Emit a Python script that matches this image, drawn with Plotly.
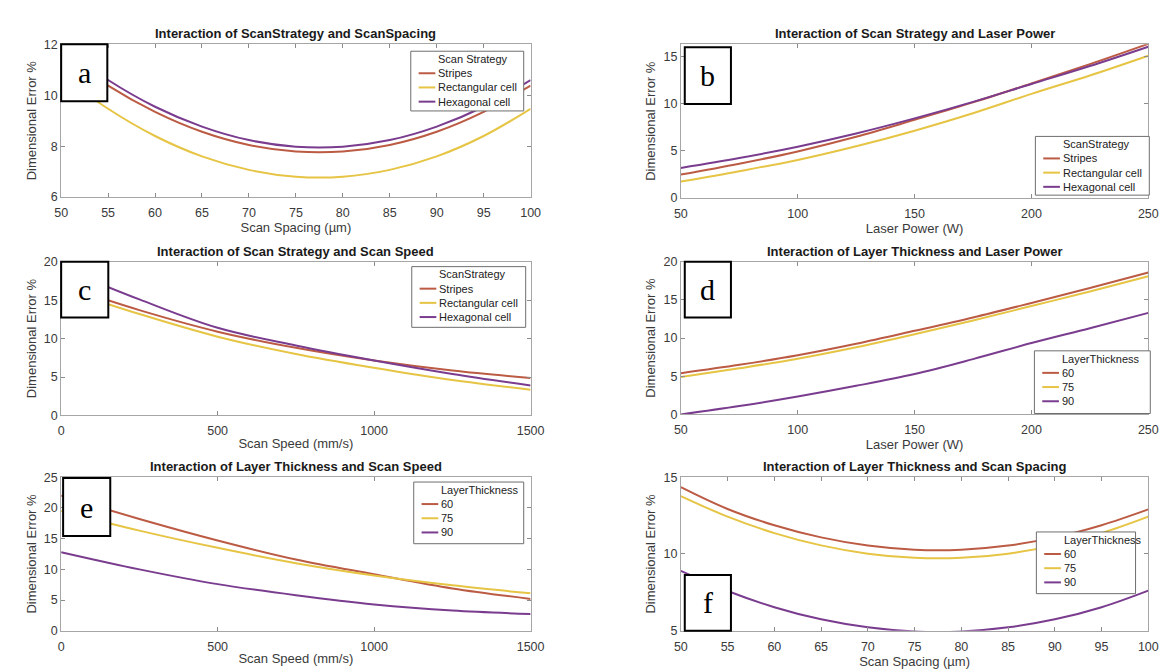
import plotly.graph_objects as go
from plotly.subplots import make_subplots

# ---------------- data ----------------
spacing = [50, 55, 60, 65, 70, 75, 80, 85, 90, 95, 100]
power = [50, 75, 100, 125, 150, 175, 200, 225, 250]
speed = [0, 250, 500, 750, 1000, 1250, 1500]

strategies = ["Stripes", "Rectangular cell", "Hexagonal cell"]
thick_labels = ["60", "75", "90"]

# (a) scan strategy vs scan spacing
a_stripes = [11.68, 10.38, 9.35, 8.57, 8.05, 7.79, 7.79, 8.05, 8.57, 9.35, 10.38]
a_rect = [10.80, 9.47, 8.40, 7.60, 7.07, 6.80, 6.80, 7.07, 7.60, 8.40, 9.47]
a_hex = [11.91, 10.60, 9.55, 8.77, 8.24, 7.98, 7.98, 8.24, 8.77, 9.55, 10.60]

# (b) scan strategy vs laser power
b_stripes = [2.50, 3.65, 4.95, 6.50, 8.30, 10.15, 12.15, 14.20, 16.35]
b_rect = [1.75, 2.85, 4.05, 5.50, 7.15, 9.00, 11.05, 13.00, 15.10]
b_hex = [3.20, 4.25, 5.45, 6.85, 8.45, 10.20, 12.10, 14.00, 16.05]

# (c) scan strategy vs scan speed
c_stripes = [17.0, 13.7, 10.9, 8.8, 7.15, 5.85, 4.87]
c_rect = [16.5, 13.2, 10.25, 8.0, 6.2, 4.6, 3.35]
c_hex = [19.2, 15.1, 11.4, 9.1, 7.15, 5.4, 3.9]

# (d) layer thickness vs laser power
d_60 = [5.40, 6.50, 7.75, 9.25, 10.95, 12.70, 14.60, 16.55, 18.60]
d_75 = [4.90, 6.05, 7.30, 8.80, 10.50, 12.30, 14.20, 16.10, 18.10]
d_90 = [0.00, 1.10, 2.35, 3.75, 5.30, 7.25, 9.35, 11.30, 13.30]

# (e) layer thickness vs scan speed
e_60 = [22.0, 18.2, 14.7, 11.6, 9.2, 6.9, 5.2]
e_75 = [19.5, 16.3, 13.5, 11.0, 9.0, 7.4, 6.1]
e_90 = [12.8, 10.0, 7.6, 5.8, 4.3, 3.3, 2.75]

# (f) layer thickness vs scan spacing
f_60 = [14.35, 12.93, 11.87, 11.08, 10.55, 10.28, 10.28, 10.55, 11.08, 11.87, 12.90]
f_75 = [13.77, 12.43, 11.36, 10.56, 10.02, 9.75, 9.75, 10.02, 10.56, 11.36, 12.43]
f_90 = [8.90, 7.59, 6.54, 5.75, 5.23, 4.96, 4.96, 5.23, 5.75, 6.54, 7.62]

titles = [
    "Interaction of ScanStrategy and ScanSpacing",
    "Interaction of Scan Strategy and Laser Power",
    "Interaction of Scan Strategy and Scan Speed",
    "Interaction of Layer Thickness and Laser Power",
    "Interaction of Layer Thickness and Scan Speed",
    "Interaction of Layer Thickness and Scan Spacing",
]
xlabels = ["Scan Spacing (µm)", "Laser Power (W)", "Scan Speed (mm/s)",
           "Laser Power (W)", "Scan Speed (mm/s)", "Scan Spacing (µm)"]
ylabel = "Dimensional Error %"
legend_titles = ["Scan Strategy", "ScanStrategy", "ScanStrategy",
                 "LayerThickness", "LayerThickness", "LayerThickness"]
panel_letters = ["a", "b", "c", "d", "e", "f"]

# ---------------- styling ----------------
W, H = 1172, 670
COLORS = ["#BC5B44", "#E6C444", "#7A3C8E"]
FONT = "Liberation Sans, Arial, sans-serif"
SERIF = "Liberation Serif, Times New Roman, serif"

# plot-area pixel boxes (left, right, top, bottom)
boxes = [
    (47, 525, 30, 186), (678, 1154, 30, 187),
    (47, 525, 252, 409), (678, 1154, 252, 408),
    (47, 525, 472, 629), (678, 1154, 472, 629),
]
# legend boxes (left, right, top, bottom) px
legend_boxes = [(403, 518, 37, 98), (1039, 1155, 124, 184), (404, 520, 257, 319),
                (1038, 1156, 343, 407), (406, 518, 477, 540), (1040, 1141, 528, 591)]
# letter boxes (x0, x1, y0, y1) px
letter_boxes = [(47, 94, 30, 88), (682, 729, 33, 91), (47, 95, 252, 309),
                (682, 729, 252, 309), (49, 97, 473, 532), (682, 729, 572, 629)]

axis_cfg = [
    dict(x=spacing, ys=[a_stripes, a_rect, a_hex], names=strategies,
         xr=[50, 100], xt=list(range(50, 101, 5)), yr=[6, 12], yt=[6, 8, 10, 12]),
    dict(x=power, ys=[b_stripes, b_rect, b_hex], names=strategies,
         xr=[50, 250], xt=[50, 100, 150, 200, 250], yr=[0, 16.3], yt=[0, 5, 10, 15]),
    dict(x=speed, ys=[c_stripes, c_rect, c_hex], names=strategies,
         xr=[0, 1500], xt=[0, 500, 1000, 1500], yr=[0, 20], yt=[0, 5, 10, 15, 20]),
    dict(x=power, ys=[d_60, d_75, d_90], names=thick_labels,
         xr=[50, 250], xt=[50, 100, 150, 200, 250], yr=[0, 20], yt=[0, 5, 10, 15, 20]),
    dict(x=speed, ys=[e_60, e_75, e_90], names=thick_labels,
         xr=[0, 1500], xt=[0, 500, 1000, 1500], yr=[0, 25], yt=[0, 5, 10, 15, 20, 25]),
    dict(x=spacing, ys=[f_60, f_75, f_90], names=thick_labels,
         xr=[50, 100], xt=list(range(50, 101, 5)), yr=[5, 15], yt=[5, 10, 15]),
]


def px(x):
    return x / W


def py(y):
    return 1 - y / H


fig = make_subplots(rows=3, cols=2)

shapes = []
annotations = []
for i, cfg in enumerate(axis_cfg):
    r, c = i // 2 + 1, i % 2 + 1
    for j, (name, y) in enumerate(zip(cfg["names"], cfg["ys"])):
        fig.add_trace(go.Scatter(
            x=cfg["x"], y=y, name=name, mode="lines",
            line=dict(color=COLORS[j], width=2, shape="spline", smoothing=1.0),
            showlegend=False,
        ), row=r, col=c)

    l, rgt, t, b = boxes[i]
    xa = "xaxis" if i == 0 else f"xaxis{i + 1}"
    ya = "yaxis" if i == 0 else f"yaxis{i + 1}"
    common = dict(showline=True, linecolor="#A6A6A6", linewidth=1, mirror="ticks",
                  ticks="inside", ticklen=4, tickcolor="#8C8C8C", showgrid=False,
                  zeroline=False, tickfont=dict(family=FONT, size=12.5, color="#3A3A3A"),
                  title_font=dict(family=FONT, size=13, color="#3A3A3A"))
    fig.layout[xa].update(domain=[px(l), px(rgt)], range=cfg["xr"], tickvals=cfg["xt"],
                          title_text=xlabels[i], title_standoff=1,
                          ticklabelstandoff=4, **common)
    fig.layout[ya].update(domain=[py(b), py(t)], range=cfg["yr"], tickvals=cfg["yt"],
                          title_text=ylabel, title_standoff=4, **common)

    # subplot title
    annotations.append(dict(
        text="<b>" + titles[i] + "</b>", xref="paper", yref="paper",
        x=px((l + rgt) / 2), y=py(t), xanchor="center", yanchor="bottom",
        yshift=1, showarrow=False, font=dict(family=FONT, size=13, color="#1A1A1A"),
    ))

    # legend box (MATLAB-style)
    lx0, lx1, ly0, ly1 = legend_boxes[i]
    shapes.append(dict(type="rect", xref="paper", yref="paper",
                       x0=px(lx0), x1=px(lx1), y0=py(ly1), y1=py(ly0),
                       fillcolor="white", line=dict(color="#6E6E6E", width=1), layer="above"))
    rows_y = [ly0 + 8 + k * 14.5 for k in range(4)]
    annotations.append(dict(
        text=legend_titles[i], xref="paper", yref="paper", x=px(lx0 + 26), y=py(rows_y[0]),
        xanchor="left", yanchor="middle", showarrow=False,
        font=dict(family=FONT, size=11, color="#222222")))
    for j, name in enumerate(cfg["names"]):
        yy = rows_y[j + 1]
        shapes.append(dict(type="line", xref="paper", yref="paper",
                           x0=px(lx0 + 8), x1=px(lx0 + 25), y0=py(yy), y1=py(yy),
                           line=dict(color=COLORS[j], width=2), layer="above"))
        annotations.append(dict(
            text=name, xref="paper", yref="paper", x=px(lx0 + 26), y=py(yy),
            xanchor="left", yanchor="middle", showarrow=False,
            font=dict(family=FONT, size=11, color="#222222")))

    # panel letter box
    bx0, bx1, by0, by1 = letter_boxes[i]
    shapes.append(dict(type="rect", xref="paper", yref="paper",
                       x0=px(bx0), x1=px(bx1), y0=py(by1), y1=py(by0),
                       fillcolor="white", line=dict(color="black", width=2), layer="above"))
    annotations.append(dict(
        text=panel_letters[i], xref="paper", yref="paper",
        x=px((bx0 + bx1) / 2), y=py((by0 + by1) / 2), xanchor="center", yanchor="middle",
        showarrow=False, font=dict(family=SERIF, size=30, color="black"),
    ))

fig.update_layout(
    width=W, height=H, margin=dict(l=0, r=0, t=0, b=0),
    paper_bgcolor="white", plot_bgcolor="white",
    shapes=shapes, annotations=annotations,
    font=dict(family=FONT), showlegend=False,
)

fig.write_html("out.html")
